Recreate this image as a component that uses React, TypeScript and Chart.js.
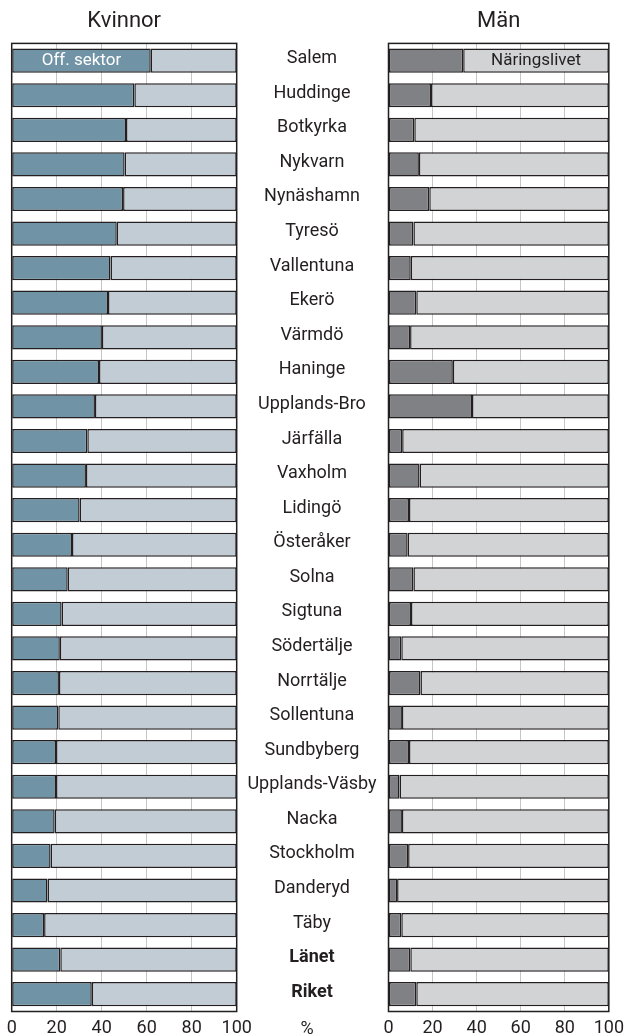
import React, { useEffect, useRef } from "react";
import { Chart, registerables } from "chart.js";

Chart.register(...registerables);
Chart.defaults.font.family = "Roboto, 'DejaVu Sans', sans-serif";

// ---------- data ----------
const categories = [
  "Salem", "Huddinge", "Botkyrka", "Nykvarn", "Nynäshamn", "Tyresö", "Vallentuna",
  "Ekerö", "Värmdö", "Haninge", "Upplands-Bro", "Järfälla", "Vaxholm", "Lidingö",
  "Österåker", "Solna", "Sigtuna", "Södertälje", "Norrtälje", "Sollentuna",
  "Sundbyberg", "Upplands-Väsby", "Nacka", "Stockholm", "Danderyd", "Täby",
  "Länet", "Riket",
];
const boldCategories = ["Länet", "Riket"];

const seriesNames = ["Off. sektor", "Näringslivet"];
const panelTitles = ["Kvinnor", "Män"];
const unitLabel = "%";
const xTicks = [0, 20, 40, 60, 80, 100];

const kvinnorOff = [
  61.8, 54.5, 50.8, 50.2, 49.5, 46.7, 43.9, 42.8, 40.1, 38.8, 37.0, 33.6, 33.0, 30.2,
  26.8, 24.9, 22.2, 21.4, 21.0, 20.7, 19.7, 19.7, 19.1, 17.3, 15.9, 14.4, 21.6, 35.6,
];
const kvinnorNar = [
  38.2, 45.5, 49.2, 49.8, 50.5, 53.3, 56.1, 57.2, 59.9, 61.2, 63.0, 66.4, 67.0, 69.8,
  73.2, 75.1, 77.8, 78.6, 79.0, 79.3, 80.3, 80.3, 80.9, 82.7, 84.1, 85.6, 78.4, 64.4,
];
const manOff = [
  33.9, 19.3, 11.7, 13.8, 18.5, 11.3, 10.1, 12.6, 9.8, 29.2, 37.9, 6.2, 14.1, 9.3,
  8.7, 11.3, 10.2, 5.8, 14.5, 6.1, 9.3, 5.0, 6.1, 8.9, 3.9, 5.8, 9.9, 12.6,
];
const manNar = [
  66.1, 80.7, 88.3, 86.2, 81.5, 88.7, 89.9, 87.4, 90.2, 70.8, 62.1, 93.8, 85.9, 90.7,
  91.3, 88.7, 89.8, 94.2, 85.5, 93.9, 90.7, 95.0, 93.9, 91.1, 96.1, 94.2, 90.1, 87.4,
];

// ---------- styling ----------
const INK = "#231f20";
const GRID = "#c6c6c6";

const panelFrame = {
  id: "panelFrame",
  afterDatasetsDraw(chart: any) {
    const { ctx, chartArea: a } = chart;
    ctx.save();
    ctx.strokeStyle = INK;
    ctx.lineWidth = 1.5;
    ctx.strokeRect(a.left, a.top, a.right - a.left, a.bottom - a.top);
    ctx.restore();
  },
};

const segmentLabel = {
  id: "segmentLabel",
  afterDatasetsDraw(chart: any, _args: any, opts: any) {
    if (opts == null || opts.datasetIndex == null) return;
    const meta = chart.getDatasetMeta(opts.datasetIndex);
    const el = meta.data[0];
    if (!el) return;
    const { x, y, base } = el.getProps(["x", "y", "base"], true);
    const ctx = chart.ctx;
    ctx.save();
    ctx.fillStyle = opts.color;
    ctx.font = `normal 17px Roboto, sans-serif`;
    ctx.textAlign = "center";
    ctx.textBaseline = "middle";
    ctx.fillText(chart.data.datasets[opts.datasetIndex].label, (x + base) / 2, y);
    ctx.restore();
  },
};

type PanelProps = {
  title: string;
  off: number[];
  nar: number[];
  offColor: string;
  narColor: string;
  showCategories: boolean;
  labelDataset: number;
  labelColor: string;
  width: number;
  height: number;
  padLeft: number;
  padRight: number;
  yWidth: number;
};

function Panel(p: PanelProps) {
  const ref = useRef<HTMLCanvasElement | null>(null);
  useEffect(() => {
    if (!ref.current) return;
    const bar = {
      borderColor: INK,
      borderWidth: 1.5,
      borderSkipped: false as const,
      barPercentage: 0.7,
      categoryPercentage: 1,
    };
    const chart = new Chart(ref.current, {
      type: "bar",
      data: {
        labels: categories,
        datasets: [
          { label: seriesNames[0], data: p.off, backgroundColor: p.offColor, ...bar },
          { label: seriesNames[1], data: p.nar, backgroundColor: p.narColor, ...bar },
        ],
      },
      options: {
        indexAxis: "y",
        animation: false,
        responsive: false,
        maintainAspectRatio: false,
        devicePixelRatio: 1,
        events: [],
        layout: {
          padding: { left: p.padLeft, right: p.padRight, top: 0, bottom: p.height - 1011.5 - 30 },
        },
        scales: {
          x: {
            type: "linear",
            stacked: true,
            min: 0,
            max: 100,
            afterBuildTicks: (s: any) => {
              s.ticks = xTicks.map((v) => ({ value: v }));
            },
            afterFit: (s: any) => {
              s.height = 30;
            },
            ticks: {
              font: { size: 18 },
              color: INK,
              padding: 6,
              maxRotation: 0,
            },
            grid: {
              color: GRID,
              lineWidth: 1,
              drawTicks: false,
            },
            border: { display: false },
          },
          y: {
            type: "category",
            stacked: true,
            display: p.showCategories,
            position: "left",
            afterFit: (s: any) => {
              s.width = p.yWidth;
            },
            grid: { display: false, drawTicks: false },
            border: { display: false },
            ticks: {
              crossAlign: "center",
              padding: 12,
              labelOffset: -2,
              color: INK,
              autoSkip: false,
              font: (ctx: any) => ({
                size: 18,
                weight: boldCategories.includes(categories[ctx.index]) ? "bold" : "normal",
              }),
            },
          },
        },
        plugins: {
          legend: { display: false },
          tooltip: { enabled: false },
          title: {
            display: true,
            text: p.title,
            fullSize: false,
            color: INK,
            font: { size: 22, weight: "normal" },
            padding: { top: 8, bottom: 9 },
          },
          segmentLabel: { datasetIndex: p.labelDataset, color: p.labelColor },
        } as any,
      },
      plugins: [panelFrame, segmentLabel],
    });
    return () => chart.destroy();
  }, []);
  return (
    <canvas
      ref={ref}
      width={p.width}
      height={p.height}
      style={{ width: p.width, height: p.height, display: "block" }}
    />
  );
}

export default function App() {
  return (
    <div
      style={{
        position: "absolute",
        left: 0,
        top: 0,
        width: 630,
        height: 1036,
        overflow: "hidden",
        background: "#fff",
      }}
    >
      <div style={{ position: "absolute", left: 0, top: 0 }}>
        <Panel
          title={panelTitles[0]}
          off={kvinnorOff}
          nar={kvinnorNar}
          offColor="#7093a6"
          narColor="#c2ccd5"
          showCategories={false}
          labelDataset={0}
          labelColor="#ffffff"
          width={262}
          height={1050}
          padLeft={11.7}
          padRight={262 - 236.7}
          yWidth={0}
        />
      </div>
      <div style={{ position: "absolute", left: 240, top: 0 }}>
        <Panel
          title={panelTitles[1]}
          off={manOff}
          nar={manNar}
          offColor="#808184"
          narColor="#d2d3d5"
          showCategories={true}
          labelDataset={1}
          labelColor={INK}
          width={390}
          height={1050}
          padLeft={0}
          padRight={390 - 373.7}
          yWidth={148.5}
        />
      </div>
      <div
        style={{
          position: "absolute",
          left: 282,
          width: 50,
          top: 1016,
          textAlign: "center",
          fontFamily: "Roboto, sans-serif",
          fontSize: 18,
          lineHeight: "24px",
          color: INK,
        }}
      >
        {unitLabel}
      </div>
    </div>
  );
}
